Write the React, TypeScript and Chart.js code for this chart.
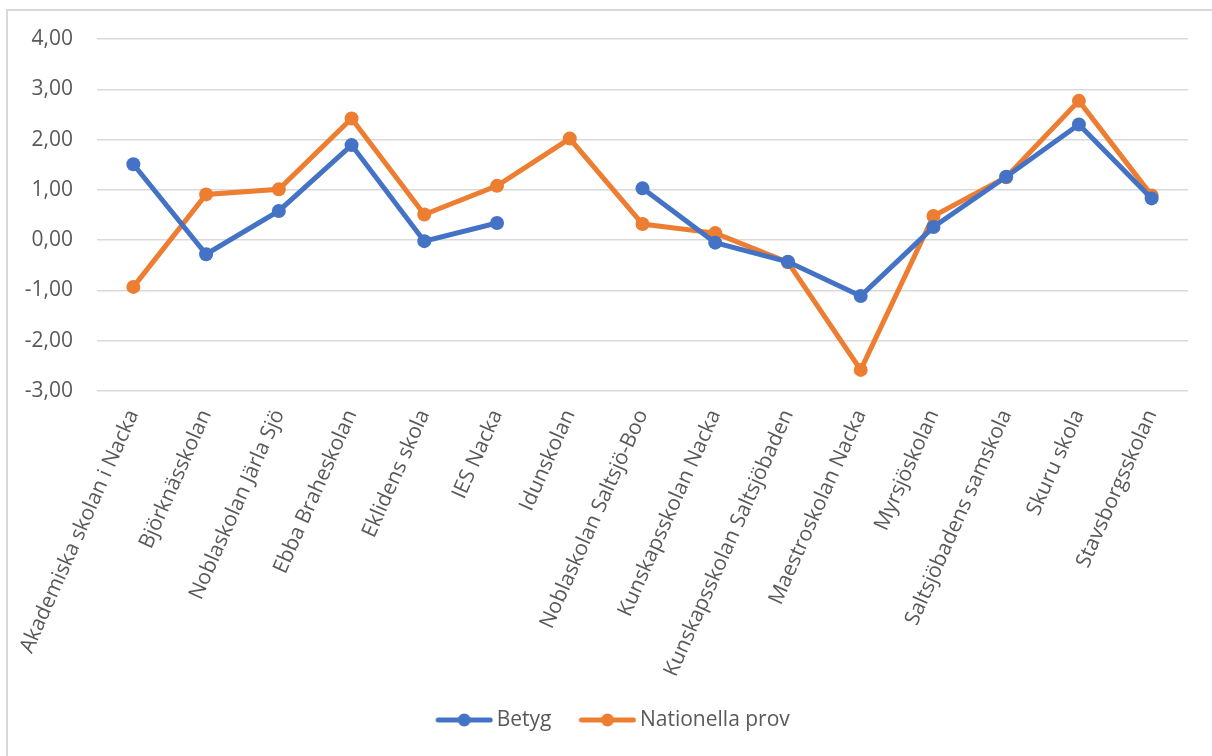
import React, { useEffect, useRef } from "react";
import { Chart, registerables } from "chart.js";

Chart.register(...registerables);

const schools = [
  "Akademiska skolan i Nacka",
  "Björknässkolan",
  "Noblaskolan Järla Sjö",
  "Ebba Braheskolan",
  "Eklidens skola",
  "IES Nacka",
  "Idunskolan",
  "Noblaskolan Saltsjö-Boo",
  "Kunskapsskolan Nacka",
  "Kunskapsskolan Saltsjöbaden",
  "Maestroskolan Nacka",
  "Myrsjöskolan",
  "Saltsjöbadens samskola",
  "Skuru skola",
  "Stavsborgsskolan",
];

const betyg: (number | null)[] = [
  1.51, -0.28, 0.58, 1.89, -0.02, 0.34, null, 1.03, -0.05, -0.43, -1.11, 0.26, 1.26, 2.3, 0.83,
];

const nationellaProv: (number | null)[] = [
  -0.93, 0.91, 1.01, 2.42, 0.51, 1.08, 2.02, 0.32, 0.14, -0.44, -2.58, 0.48, 1.25, 2.77, 0.89,
];

const seriesNames = ["Betyg", "Nationella prov"];
const seriesColors = ["#4472C4", "#ED7D31"];

const FONT = "'Open Sans', 'Noto Sans', sans-serif";
const TEXT = "#595959";

function makeIcon(color: string): HTMLCanvasElement {
  const c = document.createElement("canvas");
  c.width = 58;
  c.height = 16;
  const ctx = c.getContext("2d")!;
  ctx.strokeStyle = color;
  ctx.lineWidth = 5;
  ctx.lineCap = "round";
  ctx.beginPath();
  ctx.moveTo(3, 8);
  ctx.lineTo(55, 8);
  ctx.stroke();
  ctx.fillStyle = color;
  ctx.beginPath();
  ctx.arc(29, 8, 6.5, 0, Math.PI * 2);
  ctx.fill();
  return c;
}

const shiftLegend = {
  id: "shiftLegend",
  afterLayout(chart: any) {
    const lg = chart.legend;
    if (lg) {
      lg.left += 12;
      lg.right += 12;
    }
  },
};

export default function App() {
  const ref = useRef<HTMLCanvasElement | null>(null);

  useEffect(() => {
    if (!ref.current) return;
    const icons = seriesColors.map(makeIcon);
    const chart = new Chart(ref.current, {
      type: "line",
      plugins: [shiftLegend],
      data: {
        labels: schools,
        datasets: [
          {
            label: seriesNames[0],
            data: betyg,
            borderColor: seriesColors[0],
            backgroundColor: seriesColors[0],
            borderWidth: 5,
            pointRadius: 7,
            pointBorderWidth: 0,
            pointBackgroundColor: seriesColors[0],
            spanGaps: false,
            tension: 0,
          },
          {
            label: seriesNames[1],
            data: nationellaProv,
            borderColor: seriesColors[1],
            backgroundColor: seriesColors[1],
            borderWidth: 5,
            pointRadius: 7,
            pointBorderWidth: 0,
            pointBackgroundColor: seriesColors[1],
            spanGaps: false,
            tension: 0,
          },
        ],
      },
      options: {
        responsive: false,
        animation: false,
        layout: { padding: { top: 39, left: 20, right: 24, bottom: 15.5 } },
        plugins: {
          tooltip: { enabled: false },
          legend: {
            position: "bottom",
            labels: {
              usePointStyle: true,
              pointStyleWidth: 44,
              padding: 34,
              color: TEXT,
              font: { family: FONT, size: 21 },
              generateLabels: (ch: any) =>
                ch.data.datasets.map((ds: any, i: number) => ({
                  text: ds.label,
                  pointStyle: icons[i],
                  fillStyle: seriesColors[i],
                  strokeStyle: seriesColors[i],
                  lineWidth: 0,
                  hidden: false,
                  datasetIndex: i,
                  fontColor: TEXT,
                })),
            },
          },
        },
        scales: {
          x: {
            offset: true,
            grid: { display: false, drawTicks: false },
            border: { display: false },
            afterFit: (s: any) => {
              s.height = 284.5;
            },
            ticks: {
              autoSkip: false,
              maxRotation: 66,
              minRotation: 66,
              padding: 15,
              color: TEXT,
              font: { family: FONT, size: 21 },
            },
          },
          y: {
            min: -3,
            max: 4,
            grid: { color: "#d9d9d9", lineWidth: 1.5, drawTicks: false },
            border: { display: false },
            afterFit: (s: any) => {
              s.width = 77;
            },
            ticks: {
              stepSize: 1,
              padding: 24,
              color: TEXT,
              font: { family: FONT, size: 21 },
              callback: (v: any) => Number(v).toFixed(2).replace(".", ","),
            },
          },
        },
      },
    });
    return () => chart.destroy();
  }, []);

  return (
    <div style={{ position: "fixed", inset: 0, overflow: "hidden", background: "#fff" }}>
      <div
        style={{
          position: "absolute",
          left: 6,
          top: 9,
          width: 1300,
          height: 900,
          border: "2px solid #d9d9d9",
          boxSizing: "border-box",
        }}
      />
      <canvas
        ref={ref}
        width={1212}
        height={756}
        style={{ position: "absolute", left: 0, top: 0, width: 1212, height: 756 }}
      />
    </div>
  );
}
